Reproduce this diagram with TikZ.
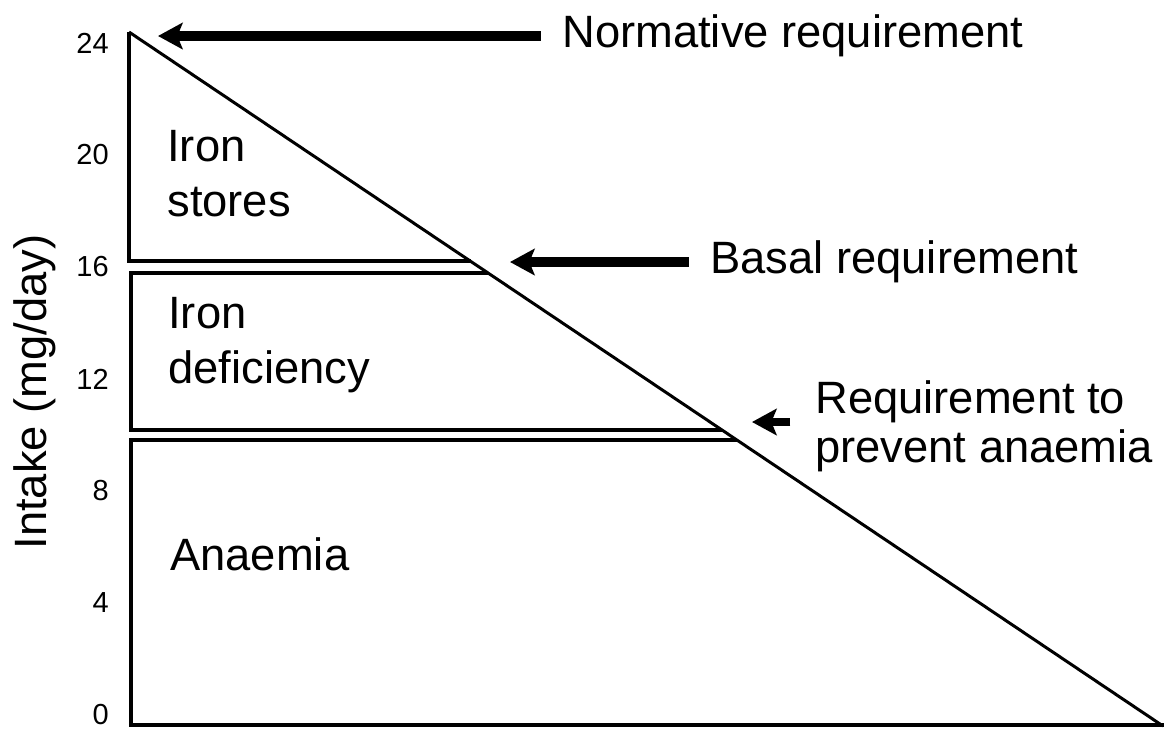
\documentclass[tikz,border=0pt]{standalone}
\usepackage{fontspec}
\setmainfont{Liberation Sans}
\usetikzlibrary{arrows.meta}

\begin{document}
\begin{tikzpicture}[x=0.02cm,y=-0.02cm,line join=miter,
                    thinline/.style={line width=1.8pt},
                    thickline/.style={line width=2.4pt},
                    txt/.style={font=\fontsize{25.8}{31}\selectfont,inner sep=0pt},
                    ticklabel/.style={font=\fontsize{16.5}{18}\selectfont,inner sep=0pt,anchor=east},
                    pointer/.style={line width=5.5pt,shorten <=12pt,
                                    -{Stealth[length=14pt,width=15pt,inset=3pt]}}]
  \useasboundingbox (0,0) rectangle (1164,728);

  % iron stores triangle and the slope
  \draw[thinline] (129,32) -- (129,261) -- (471,261);
  \draw[line width=1.7pt] (129,32) -- (1163,726);
  % iron deficiency band
  \draw[thickline] (488,273) -- (131,273) -- (131,430) -- (722,430);
  % anaemia band
  \draw[thickline] (737,440) -- (131,440) -- (131,725) -- (1164,725);

  \foreach \v in {0,4,...,24}
    \node[ticklabel] (t\v) at (109,{715-28*\v}) {\v};
  \node[txt,rotate=90] (ylab) at (35,392) {Intake (mg/day)};

  \node[txt,anchor=north west,align=left] (stores) at (167,130) {Iron\\stores};
  \node[txt,anchor=north west,align=left] (defic)  at (168,297) {Iron\\deficiency};
  \node[txt,anchor=base west]             (anaem)  at (170,570) {Anaemia};

  \node[txt,anchor=base west] (norm)  at (562,47)  {Normative requirement};
  \node[txt,anchor=base west] (basal) at (710,273) {Basal requirement};
  \node[txt,anchor=north west,align=left] (prev) at (815,380)
       {Requirement to\\[-3pt]prevent anaemia};

  \coordinate (normtip)  at (158,36);
  \coordinate (basaltip) at (510,262);
  \coordinate (prevtip)  at (752,422);

  \draw[pointer] (norm.west |- normtip) -- (normtip);
  \draw[pointer] (basal.west |- basaltip) -- (basaltip);
  \draw[pointer,line width=4.5pt,shorten <=14pt] (prev.west |- prevtip) -- (prevtip);
\end{tikzpicture}
\end{document}
